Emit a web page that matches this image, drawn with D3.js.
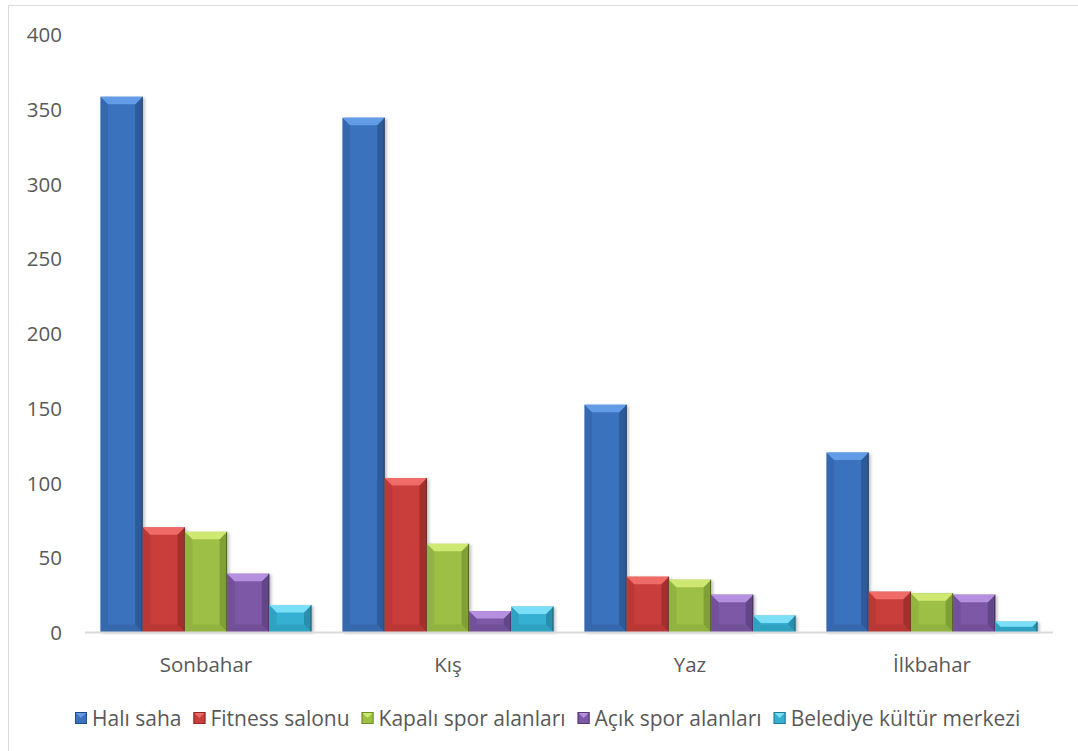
<!DOCTYPE html>
<html>
<head>
<meta charset="utf-8">
<script src="https://cdn.jsdelivr.net/npm/d3@7"></script>
<style>
  html, body { margin: 0; padding: 0; background: #fff; }
  svg { display: block; }
  text { font-family: "Open Sans", "DejaVu Sans", sans-serif; fill: #595959; }
</style>
</head>
<body>
<svg id="chart" width="1078" height="751"></svg>
<script>
const categories = ["Sonbahar", "Kış", "Yaz", "İlkbahar"];
const seriesNames = ["Halı saha", "Fitness salonu", "Kapalı spor alanları", "Açık spor alanları", "Belediye kültür merkezi"];
const haliSaha = [358, 344, 152, 120];
const fitnessSalonu = [70, 103, 37, 27];
const kapaliSpor = [67, 59, 35, 26];
const acikSpor = [39, 14, 25, 25];
const belediyeKultur = [18, 17, 11, 7];
const yTicks = [0, 50, 100, 150, 200, 250, 300, 350, 400];

const seriesValues = [haliSaha, fitnessSalonu, kapaliSpor, acikSpor, belediyeKultur];
const palette = [
  { face: "#3b72bd", light: "#629ce6", side: "#2f5d9c", dark: "#244b80" },
  { face: "#c93e3b", light: "#ee6b67", side: "#a93230", dark: "#8c2826" },
  { face: "#9dbf45", light: "#cfe872", side: "#86a53a", dark: "#6d8a2d" },
  { face: "#7c58a6", light: "#b690e0", side: "#67488c", dark: "#533a72" },
  { face: "#35b0d3", light: "#7be0f7", side: "#2993b2", dark: "#217a94" }
];

const svg = d3.select("#chart");

// chart border (left/top visible)
svg.append("rect").attr("x", 8.5).attr("y", 5.5).attr("width", 1100).attr("height", 800)
  .attr("fill", "none").attr("stroke", "#d9d9d9").attr("stroke-width", 1);

const defs = svg.append("defs");
const f = defs.append("filter").attr("id", "shadow").attr("x", "-20%").attr("y", "-5%").attr("width", "140%").attr("height", "115%");
f.append("feDropShadow").attr("dx", 2).attr("dy", 1).attr("stdDeviation", 1.6)
  .attr("flood-color", "#000").attr("flood-opacity", 0.25);

const x0 = d3.scaleBand().domain(categories).range([85, 1053]).paddingInner(0.128).paddingOuter(0.064);
const x1 = d3.scaleBand().domain(d3.range(seriesNames.length)).range([0, x0.bandwidth()]).padding(0);
const y = d3.scaleLinear().domain([0, 400]).range([632, 34]);

// Y tick labels
svg.append("g").selectAll("text").data(yTicks).join("text")
  .attr("x", 62).attr("y", d => y(d)).attr("text-anchor", "end")
  .attr("dominant-baseline", "central").style("font-size", "20.5px").text(d => d);

// bars
function drawBar(g, bx, by, bw, bh, c) {
  const b = Math.min(7.5, bh / 2, bw / 2);
  const gg = g.append("g");
  gg.append("rect").attr("x", bx).attr("y", by).attr("width", bw).attr("height", bh)
    .attr("fill", c.face).attr("filter", "url(#shadow)");
  const x2 = bx + bw, y2 = by + bh;
  gg.append("polygon").attr("points", [[bx, by], [bx + b, by + b], [bx + b, y2 - b], [bx, y2]].join(" "))
    .attr("fill", c.side).attr("opacity", 0.45);
  gg.append("polygon").attr("points", [[x2, by], [x2 - b, by + b], [x2 - b, y2 - b], [x2, y2]].join(" "))
    .attr("fill", c.dark).attr("opacity", 0.6);
  gg.append("polygon").attr("points", [[bx, y2], [bx + b, y2 - b], [x2 - b, y2 - b], [x2, y2]].join(" "))
    .attr("fill", c.side).attr("opacity", 0.5);
  gg.append("polygon").attr("points", [[bx, by], [x2, by], [x2 - b, by + b], [bx + b, by + b]].join(" "))
    .attr("fill", c.light);
  gg.append("line").attr("x1", x2 - 0.5).attr("x2", x2 - 0.5).attr("y1", by).attr("y2", y2)
    .attr("stroke", "#1a1a1a").attr("stroke-opacity", 0.45).attr("stroke-width", 1);
}

const barsG = svg.append("g");
categories.forEach((cat, ci) => {
  seriesValues.forEach((vals, si) => {
    const v = vals[ci];
    const bx = x0(cat) + x1(si);
    const by = y(v);
    drawBar(barsG, bx, by, x1.bandwidth(), y(0) - by, palette[si]);
  });
});

// x axis line
svg.append("line").attr("x1", 85).attr("x2", 1053).attr("y1", 632.5).attr("y2", 632.5)
  .attr("stroke", "#d9d9d9").attr("stroke-width", 2);

// category labels
svg.append("g").selectAll("text").data(categories).join("text")
  .attr("x", d => x0(d) + x0.bandwidth() / 2).attr("y", 664)
  .attr("text-anchor", "middle").attr("dominant-baseline", "central")
  .style("font-size", "20.5px").text(d => d);

// legend
const legend = svg.append("g");
let lx = 75;
const ly = 718;
seriesNames.forEach((name, i) => {
  const c = palette[i];
  const s = 12;
  legend.append("rect").attr("x", lx).attr("y", ly - s / 2).attr("width", s).attr("height", s).attr("fill", c.face);
  legend.append("polygon").attr("points", [[lx, ly - s / 2], [lx + s, ly - s / 2], [lx + s / 2, ly]].join(" ")).attr("fill", c.light);
  legend.append("rect").attr("x", lx + 0.5).attr("y", ly - s / 2 + 0.5).attr("width", s - 1).attr("height", s - 1)
    .attr("fill", "none").attr("stroke", c.dark).attr("stroke-width", 1);
  const t = legend.append("text").attr("x", lx + s + 5).attr("y", ly)
    .attr("dominant-baseline", "central").style("font-size", "21px").text(name);
  const tw = t.node().getComputedTextLength();
  lx = lx + s + 5 + tw + 12;
});
</script>
</body>
</html>
